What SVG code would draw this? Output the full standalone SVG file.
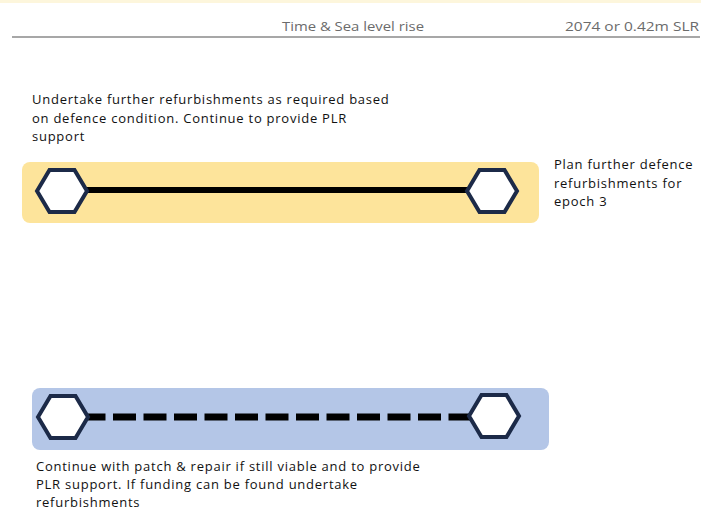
<svg xmlns="http://www.w3.org/2000/svg" width="701" height="515" viewBox="0 0 701 515">
<defs>
<style>
.t{font-family:"Open Sans","Liberation Sans",sans-serif;font-size:13px;letter-spacing:0.75px;fill:#111}
.h{font-family:"Open Sans","Liberation Sans",sans-serif;font-size:13.5px;fill:#6b6b6b}
.hex{fill:#fff;stroke:#1c2a48;stroke-width:4;stroke-linejoin:miter}
</style>
<polygon id="hx" points="-25,0 -12.5,-21 12.5,-21 25,0 12.5,21 -12.5,21" class="hex"/>
</defs>
<rect x="0" y="0" width="701" height="3" fill="#fdf6dc"/>
<g id="header">
<line x1="12" y1="37" x2="700" y2="37" stroke="#8a8a8a" stroke-width="1.5"/>
<text class="h" x="282" y="31" textLength="142" lengthAdjust="spacingAndGlyphs">Time &amp; Sea level rise</text>
<text class="h" x="565" y="31" textLength="134" lengthAdjust="spacingAndGlyphs">2074 or 0.42m SLR</text>
</g>
<g id="band-yellow"><rect x="22" y="162" width="517" height="61" rx="8" fill="#fde49b"/></g>
<g id="band-blue"><rect x="32" y="388" width="517" height="62" rx="8" fill="#b4c6e7"/></g>
<g id="connectors">
<line x1="85" y1="190" x2="470" y2="190" stroke="#000" stroke-width="6"/>
<line x1="82.5" y1="417" x2="471" y2="417" stroke="#000" stroke-width="7" stroke-dasharray="23 7.5"/>
</g>
<g id="node-y1"><use href="#hx" x="62" y="191"/></g>
<g id="node-y2"><use href="#hx" x="492" y="191"/></g>
<g id="node-b1"><use href="#hx" x="63" y="417"/></g>
<g id="node-b2"><use href="#hx" x="494" y="416"/></g>
<g id="text-top">
<text class="t" x="32" y="104">Undertake further refurbishments as required based</text>
<text class="t" x="32" y="122.5">on defence condition. Continue to provide PLR</text>
<text class="t" x="32" y="141">support</text>
</g>
<g id="text-right">
<text class="t" x="554" y="169">Plan further defence</text>
<text class="t" x="554" y="187.5">refurbishments for</text>
<text class="t" x="554" y="206">epoch 3</text>
</g>
<g id="text-bottom">
<text class="t" x="36" y="471">Continue with patch &amp; repair if still viable and to provide</text>
<text class="t" x="36" y="489">PLR support. If funding can be found undertake</text>
<text class="t" x="36" y="507">refurbishments</text>
</g>
</svg>
